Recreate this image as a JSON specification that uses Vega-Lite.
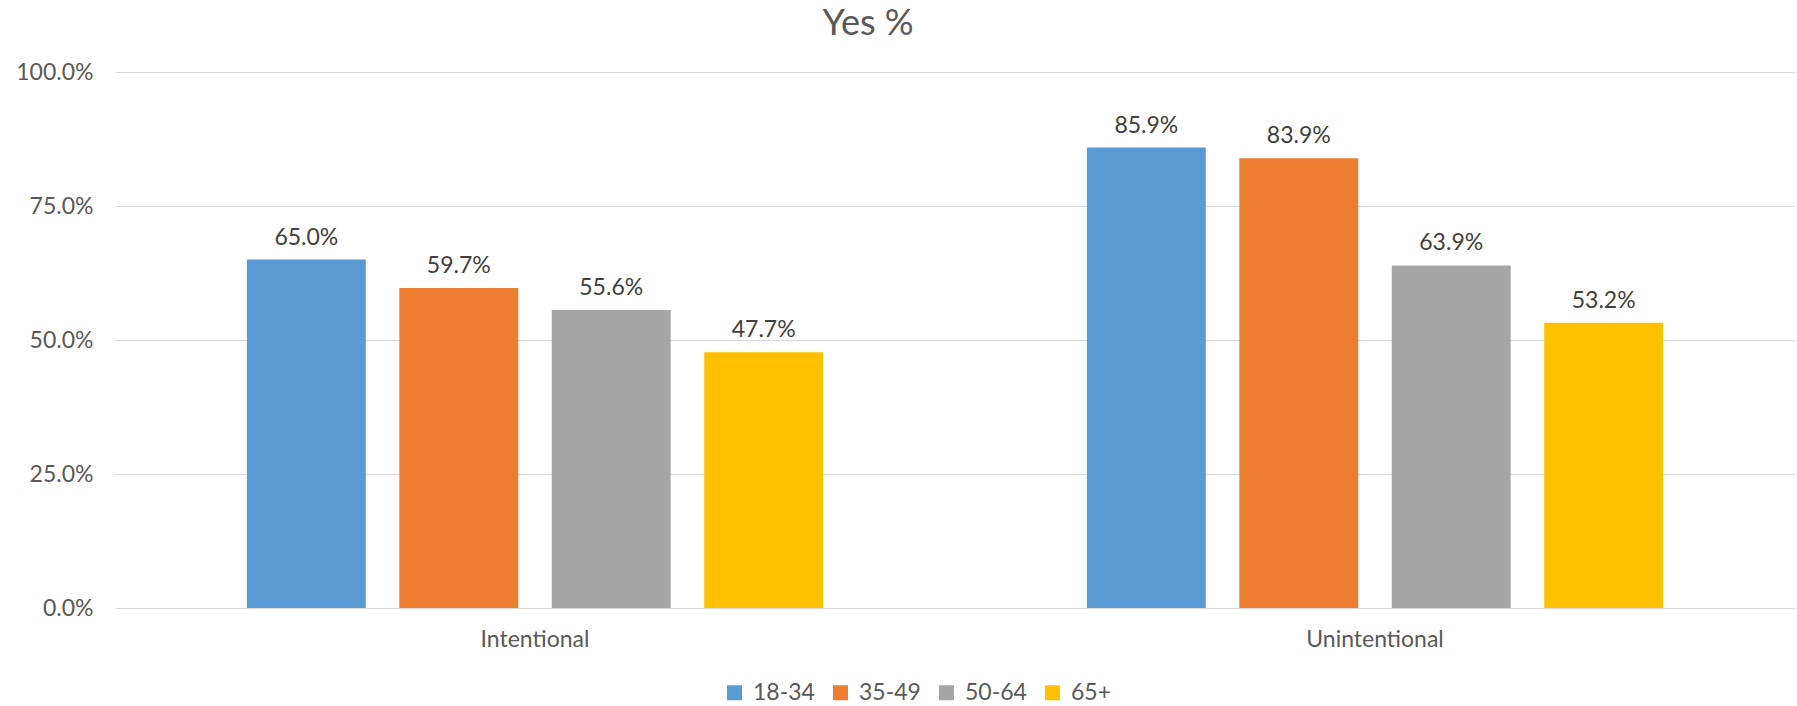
{
  "$schema": "https://vega.github.io/schema/vega-lite/v6.json",
  "autosize": "none",
  "width": 1680,
  "height": 536,
  "padding": {"left": 115, "top": 72, "right": 2, "bottom": 98},
  "background": "white",
  "config": {
    "font": "Lato",
    "view": {"stroke": null},
    "axis": {"labelColor": "#595959", "labelFont": "Lato", "labelFontSize": 23, "grid": false}
  },
  "title": {"text": "Yes %", "fontSize": 36, "font": "Lato", "fontWeight": "normal", "color": "#595959", "anchor": "middle", "dx": -87, "offset": 18},
  "data": {
    "values": [
      {"type": "Intentional", "age": "18-34", "value": 0.650},
      {"type": "Intentional", "age": "35-49", "value": 0.597},
      {"type": "Intentional", "age": "50-64", "value": 0.556},
      {"type": "Intentional", "age": "65+", "value": 0.477},
      {"type": "Unintentional", "age": "18-34", "value": 0.859},
      {"type": "Unintentional", "age": "35-49", "value": 0.839},
      {"type": "Unintentional", "age": "50-64", "value": 0.639},
      {"type": "Unintentional", "age": "65+", "value": 0.532}
    ]
  },
  "encoding": {
    "x": {"field": "type", "type": "nominal", "title": null,
      "scale": {"paddingInner": 0.314, "paddingOuter": 0.157},
      "axis": {"labelAngle": 0, "ticks": false, "domain": false, "labelPadding": 20}},
    "xOffset": {"field": "age", "type": "nominal", "scale": {"paddingInner": 0.22, "paddingOuter": 0}},
    "y": {"field": "value", "type": "quantitative", "title": null,
      "scale": {"domain": [0, 1]},
      "axis": {"values": [0, 0.25, 0.5, 0.75, 1], "format": ".1%", "grid": true, "gridColor": "#d9d9d9", "gridWidth": 1.2, "ticks": false, "domain": false, "labelPadding": 22}}
  },
  "layer": [
    {
      "mark": {"type": "bar"},
      "encoding": {
        "color": {"field": "age", "type": "nominal", "title": null,
          "scale": {"domain": ["18-34", "35-49", "50-64", "65+"], "range": ["#5b9bd5", "#ed7d31", "#a5a5a5", "#ffc000"]},
          "legend": {"orient": "none", "direction": "horizontal", "legendX": 608, "legendY": 609, "symbolType": "square", "symbolSize": 225, "symbolStrokeWidth": 0, "labelFontSize": 23, "labelColor": "#595959", "labelFont": "Lato", "columnPadding": 14, "labelOffset": 7}}
      }
    },
    {
      "mark": {"type": "text", "baseline": "bottom", "dy": -10, "fontSize": 23, "color": "#404040", "font": "Lato"},
      "encoding": {"text": {"field": "value", "type": "quantitative", "format": ".1%"}}
    }
  ]
}
